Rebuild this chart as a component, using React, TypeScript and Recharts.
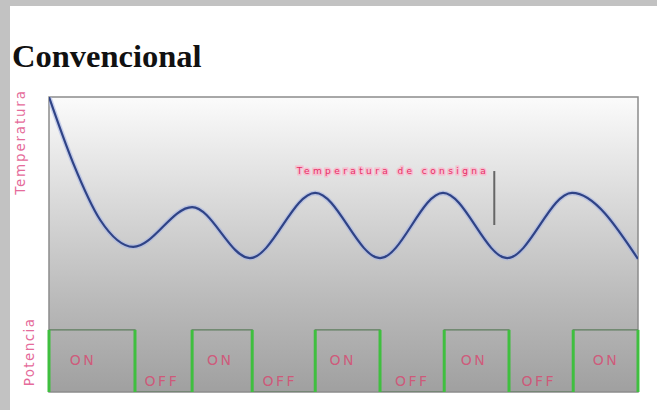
import { ComposedChart, Line, XAxis, YAxis, ReferenceArea, ReferenceLine, ReferenceDot, Scatter } from 'recharts'

// temperature curve, time 0..100 across the panel, temperature 0..100 (bottom..top)
const TIME = [0, 4.1, 8.7, 14.3, 24.3, 34.1, 45.2, 56.2, 66.9, 77.8, 88.8, 100]
const TEMP = [100, 77.6, 58.3, 49.2, 62.7, 45.4, 67.5, 45.4, 67.5, 45.4, 67.5, 45.1]

// heater state: 1 = ON, 0 = OFF, holds until the next switch time
const SWITCH_T = [0, 14.6, 24.3, 34.5, 45.2, 56.2, 67.1, 78.1, 89.0, 100]
const POWER = [1, 0, 1, 0, 1, 0, 1, 0, 1, 1]

const ON_LABEL_T = [5.6, 28.9, 49.7, 72.0, 94.4]
const OFF_LABEL_T = [19.0, 39.0, 61.5, 83.0]

const SETPOINT_T = 75.6
const SETPOINT_RANGE = [56.6, 74.9]
const SETPOINT_LABEL = 'Temperatura de consigna'

const tempData = TIME.map((t, i) => ({ t, temp: TEMP[i] }))
const powData = SWITCH_T.map((t, i) => ({ t, p: POWER[i] }))

const POW_MAX = 4.75 // ON level sits at ~21% of panel height
const onLabels = ON_LABEL_T.map((t) => ({ t, p: 0.52 }))
const offLabels = OFF_LABEL_T.map((t) => ({ t, p: 0.18 }))

const PINK = '#d9466f'
const LABEL_FONT = '"DejaVu Sans", sans-serif'

const stateText = (txt: string) => (props: any) => (
  <text x={props.cx + 1} y={props.cy} textAnchor="middle" dominantBaseline="central"
    fontFamily={LABEL_FONT} fontSize={14} letterSpacing={2.5} fill={PINK} fillOpacity={0.8}>
    {txt}
  </text>
)

const setpointLabel = (props: any) => {
  const { viewBox } = props
  return (
    <text x={viewBox.x - 5} y={viewBox.y} textAnchor="end" dominantBaseline="central"
      fontFamily={LABEL_FONT} fontSize={9} letterSpacing={3.4} fill="#e62f66"
      stroke="#f6bfd0" strokeWidth={3} paintOrder="stroke">
      {SETPOINT_LABEL}
    </text>
  )
}

export default function App() {
  return (
    <div style={{ position: 'fixed', left: 0, top: 0, width: 657, height: 410, background: '#fff', overflow: 'hidden' }}>
      <svg width={657} height={410} style={{ position: 'absolute', left: 0, top: 0 }}>
        <rect x={0} y={0} width={657} height={6} fill="#c2c2c2" />
        <rect x={0} y={0} width={10} height={410} fill="#c2c2c2" />
        <text x={12} y={67} fontFamily='"Liberation Serif", serif' fontWeight="bold" fontSize={32.5} fill="#111">
          Convencional
        </text>
        <text transform="translate(20,142) rotate(-90)" textAnchor="middle" dominantBaseline="central"
          fontFamily={LABEL_FONT} fontSize={13.5} letterSpacing={1.8} fill="#e56b9a">
          Temperatura
        </text>
        <text transform="translate(29,352) rotate(-90)" textAnchor="middle" dominantBaseline="central"
          fontFamily={LABEL_FONT} fontSize={13.5} letterSpacing={1.4} fill="#e56b9a">
          Potencia
        </text>
      </svg>
      <div style={{ position: 'absolute', left: 0, top: 0 }}>
        <ComposedChart width={657} height={410} margin={{ top: 97, right: 19, bottom: 18, left: 49 }}>
          <defs>
            <linearGradient id="bg" x1="0" y1="0" x2="0" y2="1">
              <stop offset="0%" stopColor="#fbfbfb" />
              <stop offset="35%" stopColor="#dadada" />
              <stop offset="70%" stopColor="#b9b9b9" />
              <stop offset="100%" stopColor="#a0a0a0" />
            </linearGradient>
          </defs>
          <XAxis type="number" dataKey="t" domain={[0, 100]} hide allowDataOverflow />
          <YAxis yAxisId="temp" type="number" domain={[0, 100]} hide allowDataOverflow />
          <YAxis yAxisId="pow" type="number" domain={[0, POW_MAX]} hide allowDataOverflow />
          <ReferenceArea yAxisId="temp" x1={0} x2={100} y1={0} y2={100} fill="url(#bg)" fillOpacity={1}
            stroke="#8c8c8c" strokeWidth={1.5} />
          <Line yAxisId="pow" data={powData} dataKey="p" type="stepAfter" stroke="#5d7d5d" strokeWidth={1.2}
            dot={false} activeDot={false} isAnimationActive={false} />
          {SWITCH_T.map((t) => (
            <ReferenceLine key={t} yAxisId="pow" segment={[{ x: t, y: 0 }, { x: t, y: 1 }]}
              stroke="#3fbf3f" strokeWidth={3} />
          ))}
          <Scatter yAxisId="pow" data={onLabels} dataKey="p" shape={stateText('ON')} isAnimationActive={false} />
          <Scatter yAxisId="pow" data={offLabels} dataKey="p" shape={stateText('OFF')} isAnimationActive={false} />
          <ReferenceLine yAxisId="temp" segment={[{ x: SETPOINT_T, y: SETPOINT_RANGE[0] }, { x: SETPOINT_T, y: SETPOINT_RANGE[1] }]}
            stroke="#666" strokeWidth={2} />
          <ReferenceDot yAxisId="temp" x={SETPOINT_T} y={SETPOINT_RANGE[1]} r={0} stroke="none" fill="none"
            label={setpointLabel} />
          <Line yAxisId="temp" data={tempData} dataKey="temp" type="monotone" stroke="#a8b6e4" strokeWidth={5}
            strokeOpacity={0.6} dot={false} activeDot={false} isAnimationActive={false} />
          <Line yAxisId="temp" data={tempData} dataKey="temp" type="monotone" stroke="#2f4386" strokeWidth={2.2}
            dot={false} activeDot={false} isAnimationActive={false} />
        </ComposedChart>
      </div>
    </div>
  )
}
